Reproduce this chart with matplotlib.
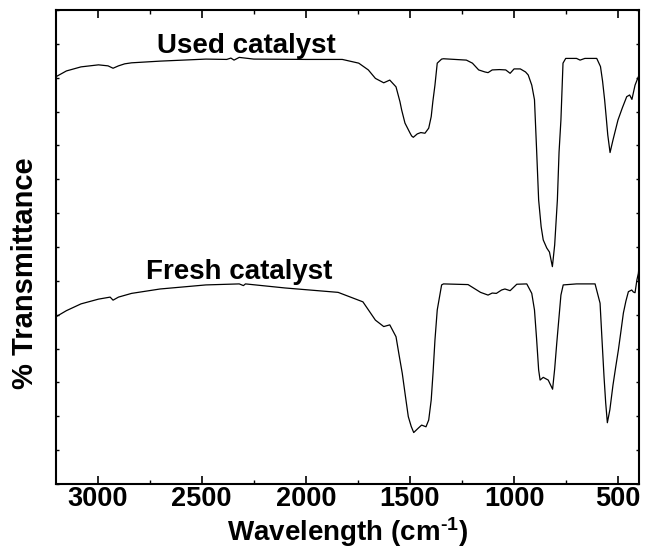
import numpy as np
import matplotlib
matplotlib.use("Agg")
import matplotlib.pyplot as plt
from matplotlib.ticker import MultipleLocator

plt.rcParams['font.family'] = ['Liberation Sans', 'DejaVu Sans']
plt.rcParams['font.weight'] = 'bold'
plt.rcParams['mathtext.fontset'] = 'custom'
plt.rcParams['mathtext.rm'] = 'Liberation Sans:bold'
plt.rcParams['mathtext.default'] = 'rm'

# FTIR spectra (wavenumber in cm-1, transmittance in arbitrary offset units)
used_wn = [3200, 3150, 3080, 2996, 2950, 2926, 2900, 2870, 2837, 2700, 2480, 2380, 2360,
           2345, 2320, 2250, 2000, 1825, 1746, 1700, 1666, 1626, 1597, 1567, 1548, 1540,
           1524, 1500, 1492, 1484, 1465, 1448, 1428, 1410, 1398, 1390, 1380, 1369, 1348,
           1339, 1229, 1200, 1170, 1140, 1125, 1105, 1070, 1040, 1019, 1000, 970, 945, 932,
           915, 902, 892, 882, 870, 860, 843, 830, 816, 805, 792, 784, 775, 765, 752, 700,
           683, 660, 603, 585, 575, 565, 557, 550, 539, 525, 501, 480, 459, 445, 434, 419,
           403, 400]
used_t = [12.03, 12.20, 12.32, 12.38, 12.35, 12.28, 12.35, 12.41, 12.44, 12.49, 12.55, 12.54,
          12.58, 12.52, 12.60, 12.55, 12.54, 12.54, 12.43, 12.23, 11.98, 11.85, 11.93, 11.73,
          11.29, 11.05, 10.66, 10.37, 10.28, 10.24, 10.34, 10.38, 10.36, 10.51, 10.85, 11.3,
          11.78, 12.43, 12.55, 12.56, 12.52, 12.43, 12.23, 12.17, 12.15, 12.23, 12.24, 12.23,
          12.13, 12.26, 12.26, 12.17, 12.08, 11.78, 11.35, 9.9, 8.39, 7.6, 7.21, 6.97, 6.85,
          6.42, 7.06, 8.39, 9.8, 10.75, 12.43, 12.57, 12.57, 12.52, 12.57, 12.57, 12.33, 11.9,
          11.34, 10.8, 10.31, 9.79, 10.16, 10.75, 11.11, 11.44, 11.49, 11.36, 11.78, 12.03,
          12.03]

fresh_wn = [3200, 3150, 3080, 2996, 2940, 2926, 2900, 2837, 2700, 2480, 2320, 2300, 2290,
            2100, 1845, 1726, 1666, 1626, 1597, 1567, 1552, 1537, 1522, 1508, 1494, 1482,
            1460, 1444, 1423, 1410, 1398, 1389, 1380, 1369, 1348, 1339, 1221, 1161, 1125,
            1105, 1085, 1060, 1044, 1019, 987, 939, 915, 902, 892, 882, 875, 860, 836, 815,
            805, 795, 775, 764, 700, 611, 587, 578, 568, 560, 552, 540, 525, 512, 499, 487,
            475, 463, 451, 435, 427, 419, 410, 403, 400]
fresh_t = [4.94, 5.12, 5.32, 5.46, 5.52, 5.43, 5.52, 5.63, 5.76, 5.88, 5.91, 5.86, 5.91,
           5.79, 5.66, 5.38, 4.84, 4.65, 4.70, 4.35, 3.8, 3.27, 2.6, 1.99, 1.7, 1.52, 1.65,
           1.74, 1.69, 1.89, 2.48, 3.3, 4.25, 5.14, 5.88, 5.91, 5.89, 5.66, 5.58, 5.64,
           5.63, 5.73, 5.76, 5.71, 5.90, 5.91, 5.63, 5.14, 4.3, 3.37, 3.07, 3.15, 3.07,
           2.80, 3.4, 4.16, 5.58, 5.88, 5.91, 5.91, 5.34, 4.3, 3.17, 2.4, 1.81, 2.19, 2.92,
           3.45, 3.96, 4.5, 5.05, 5.4, 5.68, 5.73, 5.67, 5.65, 6.03, 6.22, 6.42]

labels = ['Used catalyst', 'Fresh catalyst']

fig = plt.figure(figsize=(6.47, 5.48), dpi=100)
ax = fig.add_axes([56 / 647, 64 / 548, 583 / 647, 474 / 548])

ax.plot(used_wn, used_t, color='black', lw=0.9)
ax.plot(fresh_wn, fresh_t, color='black', lw=0.9)

# sample names above each trace
ax.text(2287, 12.73, labels[0], ha='center', va='baseline', fontsize=20, fontweight='bold')
ax.text(2321, 6.05, labels[1], ha='center', va='baseline', fontsize=20, fontweight='bold')

ax.set_xlim(3200, 400)
ax.set_ylim(0, 14)

ax.xaxis.set_major_locator(MultipleLocator(500))
ax.xaxis.set_minor_locator(MultipleLocator(250))
ax.yaxis.set_major_locator(MultipleLocator(1))
ax.tick_params(axis='x', which='major', direction='in', length=5.8, width=1.2,
               top=True, labelsize=19.5, pad=1.5)
ax.tick_params(axis='x', which='minor', direction='in', length=3, width=1.0, top=True)
ax.tick_params(axis='y', which='major', direction='in', length=2.2, width=1.0,
               right=True, labelleft=False)
for s in ax.spines.values():
    s.set_linewidth(1.5)

fig.text(0.5 * (56 + 639) / 647, 7 / 548, r'Wavelength (cm$^{\text{-1}}$)',
         ha='center', va='baseline', fontsize=20, fontweight='bold')
fig.text(33 / 647, 275 / 548, '% Transmittance', rotation=90, rotation_mode='anchor',
         ha='center', va='baseline', fontsize=21, fontweight='bold')

fig.savefig('out.png', dpi=100)
